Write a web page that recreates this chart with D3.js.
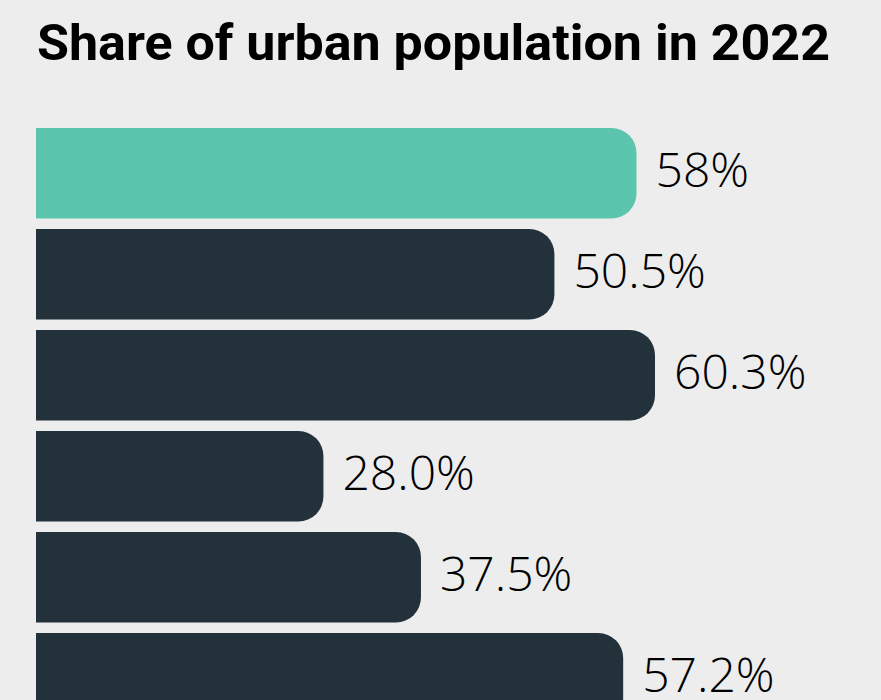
<!DOCTYPE html>
<html>
<head>
<meta charset="utf-8">
<script src="https://cdn.jsdelivr.net/npm/d3@7"></script>
<style>
  html, body { margin: 0; padding: 0; background: #ededed; }
  svg { display: block; }
</style>
</head>
<body>
<script>
"use strict";
// data
var categories = ["row1", "row2", "row3", "row4", "row5", "row6"];
var values = [58.5, 50.5, 60.3, 28.0, 37.5, 57.2];
var valueLabels = ["58%", "50.5%", "60.3%", "28.0%", "37.5%", "57.2%"];
var highlight = "row1";

(function () {
  var width = 881, height = 700;
  var left = 36, radius = 25;

  var svg = d3.select("body").append("svg")
    .attr("width", width)
    .attr("height", height);

  svg.append("rect")
    .attr("width", width).attr("height", height)
    .attr("fill", "#ededed");

  svg.append("text")
    .attr("x", 37)
    .attr("y", 60)
    .attr("font-family", "Roboto, sans-serif")
    .attr("font-weight", 700)
    .attr("font-size", 50)
    .attr("textLength", 793)
    .attr("lengthAdjust", "spacingAndGlyphs")
    .attr("fill", "#000")
    .text("Share of urban population in 2022");

  var x = d3.scaleLinear().domain([0, 60.3]).range([0, 619]);
  var y = d3.scaleBand().domain(categories).range([128, 723.5]).paddingInner(0.104);

  function barPath(v, cat) {
    var x0 = left, x1 = left + x(v), y0 = y(cat), h = y.bandwidth();
    var r = Math.min(radius, h / 2, x1 - x0);
    return "M" + x0 + "," + y0 +
      "H" + (x1 - r) +
      "A" + r + "," + r + " 0 0 1 " + x1 + "," + (y0 + r) +
      "V" + (y0 + h - r) +
      "A" + r + "," + r + " 0 0 1 " + (x1 - r) + "," + (y0 + h) +
      "H" + x0 + "Z";
  }

  var rows = svg.selectAll(".row")
    .data(categories)
    .enter().append("g")
    .attr("class", "row");

  rows.append("path")
    .attr("d", function (c, i) { return barPath(values[i], c); })
    .attr("fill", function (c) { return c === highlight ? "#5bc6ad" : "#22313a"; });

  rows.append("text")
    .attr("x", function (c, i) { return left + x(values[i]) + 19; })
    .attr("y", function (c) { return y(c) + y.bandwidth() / 2 + 14; })
    .attr("font-family", "'Open Sans', sans-serif")
    .attr("font-weight", 360)
    .attr("font-size", 48)
    .attr("fill", "#000")
    .text(function (c, i) { return valueLabels[i]; });
})();
</script>
</body>
</html>
